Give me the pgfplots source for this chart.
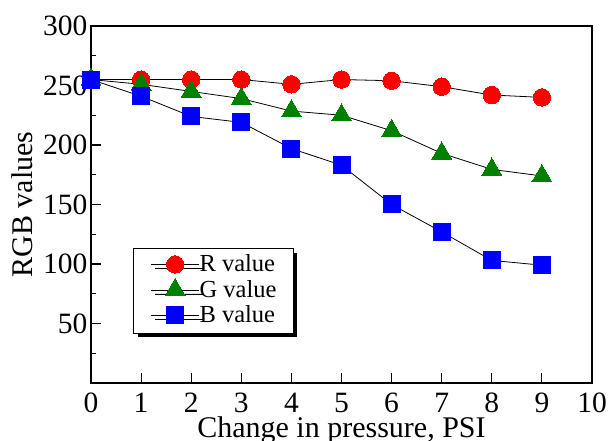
\documentclass[border=0pt]{standalone}
\usepackage{pgfplots}
\pgfplotsset{compat=1.18}
\usepackage{fontspec}
\setmainfont{Liberation Serif}
\usetikzlibrary{shadows}
\definecolor{cR}{RGB}{255,0,0}
\definecolor{cG}{RGB}{0,128,0}
\definecolor{cB}{RGB}{0,0,255}
\begin{document}
\begin{tikzpicture}
\begin{axis}[
  scale only axis,
  width=501pt, height=357pt,
  xmin=0, xmax=10, ymin=0, ymax=300,
  xtick={0,1,...,10},
  ytick={50,100,...,300},
  minor ytick={25,75,...,275},
  tick align=inside,
  tick pos=left,
  major tick length=10pt,
  minor tick length=5pt,
  axis line style={line width=1.2pt},
  every tick/.style={line width=1.1pt, black},
  /pgf/number format/assume math mode=true,
  tick label style={font=\fontsize{29.5}{30}\selectfont},
  yticklabel style={anchor=east, inner sep=0pt, xshift=-3.5pt},
  xticklabel style={anchor=north, inner sep=0pt, yshift=-10pt},
  xlabel={Change in pressure, PSI},
  ylabel={RGB values},
  label style={font=\fontsize{30}{32}\selectfont},
  xlabel style={at={(axis description cs:0.5,-0.1513)}, anchor=base},
  ylabel style={at={(axis description cs:-0.1158,0.5)}, anchor=base, rotate=0},
  clip=false,
  legend style={
    at={(axis description cs:0.0844,0.377)}, anchor=north west,
    draw=black, line width=1pt,
    font=\fontsize{24.5}{26}\selectfont,
    inner xsep=17pt, inner ysep=4pt,
    row sep=0pt,
    nodes={inner sep=0pt, text height=19pt, text depth=6.5pt, anchor=base west},
    drop shadow={shadow xshift=4pt, shadow yshift=-4pt, fill=black, opacity=1},
    fill=white,
  },
  legend cell align=left,
  legend image code/.code={
    \draw[mark repeat=2, mark phase=2, line width=0.8pt]
      plot coordinates {(0pt,7.5pt) (24pt,7.5pt) (48pt,7.5pt)};
  },
]
\addplot[black, line width=0.8pt, mark=*, mark size=8.7pt,
  mark options={fill=cR, draw=cR, line width=0pt}] coordinates {
  (0,255)(1,255)(2,255)(3,255)(4,251)(5,255)(6,254)(7,249)(8,242)(9,240)};
\addlegendentry{R value}
\addplot[black, line width=0.8pt, mark=triangle*, mark size=11.5pt,
  mark options={fill=cG, draw=cG, line width=0pt}] coordinates {
  (0,255)(1,251)(2,245)(3,239)(4,228.5)(5,225)(6,212)(7,193)(8,179.5)(9,174)};
\addlegendentry{G value}
\addplot[black, line width=0.8pt, mark=square*, mark size=8.5pt,
  mark options={fill=cB, draw=cB, line width=0pt}] coordinates {
  (0,255)(1,241)(2,224)(3,219)(4,197)(5,183)(6,150)(7,127)(8,103)(9,99)};
\addlegendentry{B value}
\coordinate (bl) at (rel axis cs:0,0);
\coordinate (tr) at (rel axis cs:1,1);
\end{axis}
\pgfresetboundingbox
\path[use as bounding box] ([shift={(-91pt,-58pt)}]bl) rectangle ([shift={(16pt,26pt)}]tr);
\end{tikzpicture}
\end{document}
